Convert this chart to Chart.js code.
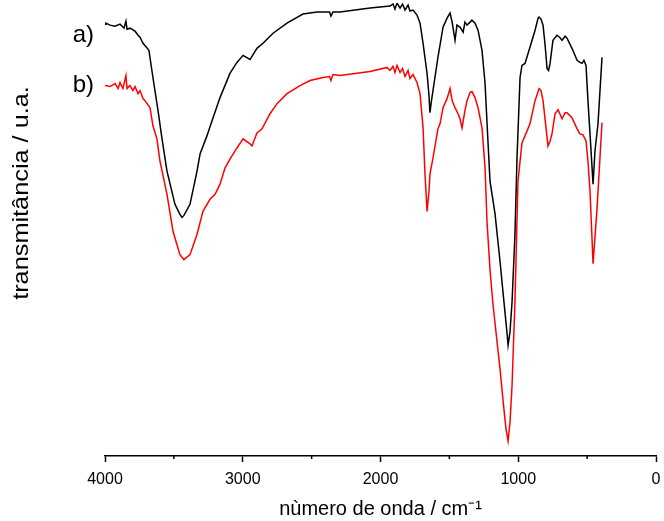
<!DOCTYPE html>
<html>
<head>
<meta charset="utf-8">
<script src="https://cdn.jsdelivr.net/npm/chart.js@4.4.0/dist/chart.umd.min.js"></script>
<style>
  html, body { margin: 0; padding: 0; background: #fff; }
  #wrap { width: 664px; height: 521px; }
</style>
</head>
<body>
<div id="wrap"><canvas id="chart1"></canvas></div>
<script>
// spectrum a) - wavenumber (cm-1) and transmittance (arbitrary units)
var waveA = [4000, 3993, 3964, 3927, 3891, 3862, 3848, 3840, 3819, 3782, 3760, 3746, 3724, 3681, 3652, 3615, 3586, 3550, 3492, 3456, 3441, 3427, 3383, 3332, 3310, 3260, 3223, 3165, 3093, 3042, 2998, 2947, 2897, 2853, 2780, 2679, 2563, 2461, 2370, 2360, 2345, 2294, 2076, 1931, 1909, 1895, 1880, 1858, 1840, 1822, 1800, 1786, 1764, 1735, 1713, 1691, 1662, 1648, 1641, 1630, 1619, 1583, 1546, 1517, 1495, 1480, 1459, 1445, 1423, 1400, 1387, 1372, 1350, 1336, 1314, 1292, 1263, 1241, 1220, 1205, 1169, 1132, 1111, 1082, 1074, 1060, 1045, 1024, 1009, 987, 973, 951, 915, 878, 856, 849, 835, 820, 805, 791, 780, 769, 748, 719, 700, 682, 660, 646, 610, 573, 552, 537, 523, 508, 494, 479, 457, 443, 421, 392];
var transA = [429, 430, 428, 427, 429, 425, 432, 424, 425, 422, 418, 416, 410, 403, 376, 343, 315, 283, 250, 240, 237, 239, 250, 283, 300, 318, 333, 356, 380, 391, 398, 394, 405, 410, 420, 430, 439, 441, 441, 437, 441, 441, 445, 447, 449, 444, 450, 445, 449, 443, 448, 442, 443, 438, 430, 410, 380, 358, 341, 353, 363, 396, 426, 435, 440, 431, 413, 428, 426, 421, 431, 428, 431, 433, 430, 423, 403, 370, 313, 273, 241, 193, 163, 123, 110, 123, 153, 220, 296, 376, 388, 390, 406, 423, 435, 436, 434, 428, 408, 385, 383, 390, 413, 418, 416, 413, 417, 415, 405, 393, 391, 390, 393, 388, 353, 320, 270, 303, 330, 396];

// spectrum b)
var waveB = [4000, 3993, 3964, 3927, 3905, 3891, 3870, 3848, 3840, 3819, 3797, 3782, 3760, 3746, 3724, 3710, 3673, 3652, 3623, 3601, 3550, 3506, 3456, 3427, 3383, 3332, 3289, 3238, 3201, 3165, 3129, 3093, 3042, 2998, 2947, 2933, 2897, 2860, 2802, 2751, 2679, 2584, 2512, 2417, 2370, 2360, 2345, 2294, 2076, 1953, 1931, 1909, 1895, 1880, 1858, 1840, 1822, 1800, 1786, 1764, 1735, 1713, 1691, 1677, 1662, 1648, 1641, 1619, 1583, 1568, 1546, 1517, 1495, 1480, 1459, 1437, 1423, 1408, 1387, 1372, 1350, 1336, 1314, 1292, 1263, 1241, 1227, 1205, 1183, 1132, 1111, 1090, 1074, 1060, 1045, 1024, 1002, 973, 951, 915, 878, 849, 835, 820, 800, 784, 769, 755, 733, 711, 682, 660, 646, 610, 573, 552, 530, 508, 494, 479, 457, 428, 392];
var transB = [368, 368, 367, 370, 365, 371, 365, 378, 365, 368, 363, 367, 360, 363, 355, 353, 346, 328, 315, 293, 260, 223, 200, 195, 200, 220, 243, 255, 260, 270, 286, 295, 306, 315, 310, 308, 321, 325, 340, 350, 360, 368, 373, 376, 377, 373, 379, 378, 382, 386, 383, 387, 381, 388, 381, 385, 377, 383, 375, 379, 371, 360, 326, 280, 243, 263, 280, 296, 325, 330, 346, 355, 365, 353, 346, 340, 335, 326, 343, 353, 361, 362, 356, 346, 326, 286, 233, 185, 150, 86, 56, 28, 15, 33, 70, 153, 273, 311, 318, 330, 353, 365, 363, 353, 328, 308, 313, 320, 340, 344, 335, 341, 341, 336, 325, 320, 319, 313, 293, 263, 191, 246, 331];

var xTicks = [0, 1000, 2000, 3000, 4000];
var xMinorTicks = [500, 1500, 2500, 3500];
var seriesLabels = ['a)', 'b)'];
var labelLevels = [418, 368];

function toPoints(xs, ys) {
  return xs.map(function (x, i) { return { x: x, y: ys[i] }; });
}

var fontFamily = "'Liberation Sans', Arial, sans-serif";

// minor ticks, y title and a)/b) labels
var extras = {
  id: 'extras',
  afterDraw: function (chart) {
    var ctx = chart.ctx;
    var xs = chart.scales.x;
    var ys = chart.scales.y;
    ctx.save();
    ctx.strokeStyle = '#000';
    ctx.lineWidth = 1.5;
    xMinorTicks.forEach(function (v) {
      var px = xs.getPixelForValue(v);
      ctx.beginPath();
      ctx.moveTo(px, xs.top);
      ctx.lineTo(px, xs.top + 3);
      ctx.stroke();
    });
    ctx.fillStyle = '#000';
    ctx.font = '24px ' + fontFamily;
    ctx.textAlign = 'right';
    ctx.textBaseline = 'middle';
    seriesLabels.forEach(function (t, i) {
      ctx.fillText(t, xs.left - 11, ys.getPixelForValue(labelLevels[i]));
    });
    ctx.translate(22, 193);
    ctx.rotate(-Math.PI / 2);
    ctx.scale(1.15, 1);
    ctx.font = '22px ' + fontFamily;
    ctx.textAlign = 'center';
    ctx.fillText('transmitância / u.a.', 0, 0);
    ctx.restore();
  }
};

var ctx1 = document.getElementById('chart1').getContext('2d');
var chart1 = new Chart(ctx1, {
  type: 'line',
  data: {
    datasets: [{
      label: 'a)',
      data: toPoints(waveA, transA),
      borderColor: '#000000',
      borderWidth: 1.5,
      pointRadius: 0,
      fill: false,
      tension: 0
    }, {
      label: 'b)',
      data: toPoints(waveB, transB),
      borderColor: '#ff0000',
      borderWidth: 1.5,
      pointRadius: 0,
      fill: false,
      tension: 0
    }]
  },
  options: {
    responsive: true,
    maintainAspectRatio: false,
    animation: false,
    layout: { padding: { left: 105, right: 8, top: 3, bottom: 0 } },
    plugins: {
      legend: { display: false },
      tooltip: { enabled: false }
    },
    scales: {
      x: {
        type: 'linear',
        reverse: true,
        min: 0,
        max: 4000,
        afterBuildTicks: function (scale) {
          scale.ticks = xTicks.map(function (v) { return { value: v }; });
        },
        ticks: {
          color: '#000',
          font: { family: fontFamily, size: 16 },
          padding: 8,
          maxRotation: 0,
          callback: function (value) { return String(value); }
        },
        grid: {
          display: true,
          drawOnChartArea: false,
          drawTicks: true,
          tickLength: 6,
          tickWidth: 1.5,
          color: '#000'
        },
        border: { display: true, color: '#000', width: 1.5 },
        title: {
          display: true,
          text: 'nùmero de onda / cm⁻¹',
          color: '#000',
          font: { family: fontFamily, size: 20 },
          padding: { top: 0, bottom: 0 }
        },
        afterFit: function (scale) { scale.height = 65; }
      },
      y: {
        display: false,
        min: 0,
        max: 450
      }
    }
  },
  plugins: [extras]
});
</script>
</body>
</html>
